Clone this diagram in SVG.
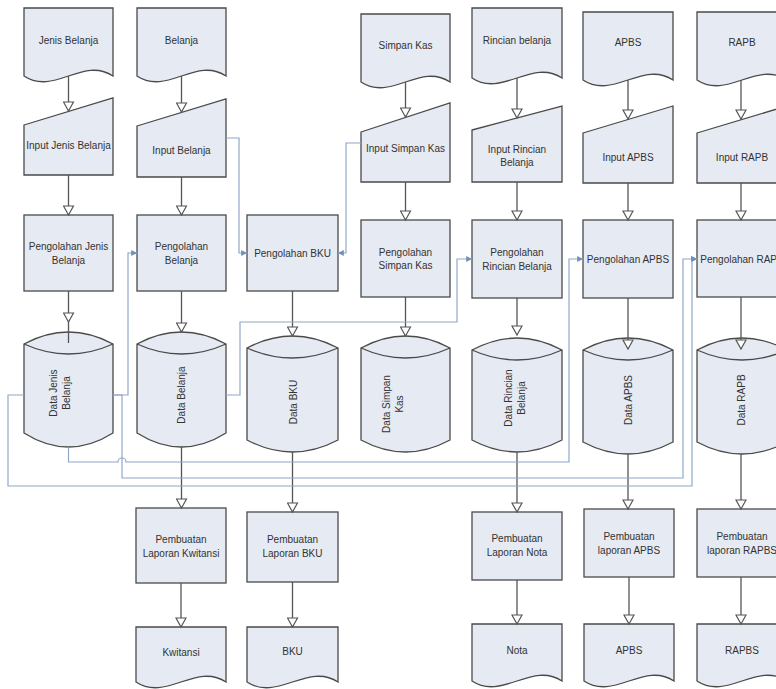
<svg xmlns="http://www.w3.org/2000/svg" width="776" height="689" viewBox="0 0 776 689">
  <style>
    .shape { fill: #e6eaf2; stroke: #4a4a4a; stroke-width: 1.3; }
    .inner { fill: none; stroke: #4a4a4a; stroke-width: 1.3; }
    .lbl { font-family: "Liberation Sans", Arial, sans-serif; font-size: 10px; fill: #333; text-anchor: middle; dominant-baseline: central; }
    .flow { fill: none; stroke: #555; stroke-width: 1.3; marker-end: url(#open); }
    .plain { fill: none; stroke: #555; stroke-width: 1.3; }
    .linkA { fill: none; stroke: #8fa8c8; stroke-width: 1.2; marker-end: url(#small); }
  </style>
  <defs>
    <marker id="open" markerUnits="userSpaceOnUse" markerWidth="12" markerHeight="12" refX="9" refY="0" viewBox="-1 -6 11 12" orient="auto">
      <path d="M0,-5 L9,0 L0,5 Z" fill="#fff" stroke="#555" stroke-width="1.2"/>
    </marker>
    <marker id="small" markerUnits="userSpaceOnUse" markerWidth="7" markerHeight="7" refX="5" refY="0" viewBox="0 -3 6 6" orient="auto">
      <path d="M0,-2.5 L5,0 L0,2.5 Z" fill="#6f8fb8"/>
    </marker>
  </defs>
  <rect width="776" height="689" fill="#fff"/>

  <!-- input documents -->
  <g id="doc-jenis-belanja">
    <path class="shape" d="M24,8 H113 V76 C83,56 54,96 24,76 Z"/>
    <text class="lbl" x="68.5" y="40">Jenis Belanja</text>
  </g>
  <g id="doc-belanja">
    <path class="shape" d="M137,8 H226 V76 C196,56 167,96 137,76 Z"/>
    <text class="lbl" x="181.5" y="40">Belanja</text>
  </g>
  <g id="doc-simpan-kas">
    <path class="shape" d="M361,14 H450 V82 C420,62 391,102 361,82 Z"/>
    <text class="lbl" x="405.5" y="45">Simpan Kas</text>
  </g>
  <g id="doc-rincian-belanja">
    <path class="shape" d="M472,8 H562 V78 C532,58 502,98 472,78 Z"/>
    <text class="lbl" x="517" y="40">Rincian belanja</text>
  </g>
  <g id="doc-apbs">
    <path class="shape" d="M583,12 H673 V80 C643,60 613,100 583,80 Z"/>
    <text class="lbl" x="628" y="42">APBS</text>
  </g>
  <g id="doc-rapb">
    <path class="shape" d="M697,12 H787 V80 C757,60 727,100 697,80 Z"/>
    <text class="lbl" x="742" y="42">RAPB</text>
  </g>

  <!-- manual inputs -->
  <g id="input-jenis-belanja">
    <path class="shape" d="M24,125 L113,98 V175 H24 Z"/>
    <text class="lbl" x="68.5" y="145">Input Jenis Belanja</text>
  </g>
  <g id="input-belanja">
    <path class="shape" d="M137,126 L226,99 V177 H137 Z"/>
    <text class="lbl" x="181.5" y="150">Input Belanja</text>
  </g>
  <g id="input-simpan-kas">
    <path class="shape" d="M361,132 L450,103 V182 H361 Z"/>
    <text class="lbl" x="405.5" y="148">Input Simpan Kas</text>
  </g>
  <g id="input-rincian-belanja">
    <path class="shape" d="M472,130 L562,106 V182 H472 Z"/>
    <text class="lbl" x="517" y="149">Input Rincian</text>
    <text class="lbl" x="517" y="162">Belanja</text>
  </g>
  <g id="input-apbs">
    <path class="shape" d="M583,133 L673,106 V183 H583 Z"/>
    <text class="lbl" x="628" y="157">Input APBS</text>
  </g>
  <g id="input-rapb">
    <path class="shape" d="M697,133 L787,106 V183 H697 Z"/>
    <text class="lbl" x="742" y="157">Input RAPB</text>
  </g>

  <!-- processes -->
  <g id="proc-jenis-belanja">
    <rect class="shape" x="24" y="215" width="89" height="76"/>
    <text class="lbl" x="68.5" y="246">Pengolahan Jenis</text>
    <text class="lbl" x="68.5" y="260">Belanja</text>
  </g>
  <g id="proc-belanja">
    <rect class="shape" x="137" y="215" width="89" height="76"/>
    <text class="lbl" x="181.5" y="246">Pengolahan</text>
    <text class="lbl" x="181.5" y="260">Belanja</text>
  </g>
  <g id="proc-bku">
    <rect class="shape" x="247" y="215" width="91" height="76"/>
    <text class="lbl" x="292.5" y="253">Pengolahan BKU</text>
  </g>
  <g id="proc-simpan-kas">
    <rect class="shape" x="361" y="220" width="89" height="77"/>
    <text class="lbl" x="405.5" y="252">Pengolahan</text>
    <text class="lbl" x="405.5" y="265">Simpan Kas</text>
  </g>
  <g id="proc-rincian-belanja">
    <rect class="shape" x="472" y="220" width="90" height="78"/>
    <text class="lbl" x="517" y="252">Pengolahan</text>
    <text class="lbl" x="517" y="266">Rincian Belanja</text>
  </g>
  <g id="proc-apbs">
    <rect class="shape" x="583" y="220" width="90" height="78"/>
    <text class="lbl" x="628" y="259">Pengolahan APBS</text>
  </g>
  <g id="proc-rapb">
    <rect class="shape" x="697" y="220" width="90" height="77"/>
    <text class="lbl" x="742" y="259">Pengolahan RAPB</text>
  </g>

  <!-- data stores -->
  <g id="data-jenis-belanja">
    <path class="shape" d="M24,344 Q68.5,320 113,344 V433 Q68.5,461 24,433 Z"/>
    <path class="inner" d="M24,344 Q68.5,364 113,344"/>
    <text class="lbl" transform="translate(60,393) rotate(-90)" y="-6.5">Data Jenis</text>
    <text class="lbl" transform="translate(60,393) rotate(-90)" y="6.5">Belanja</text>
  </g>
  <g id="data-belanja">
    <path class="shape" d="M137,344 Q181.5,320 226,344 V433 Q181.5,461 137,433 Z"/>
    <path class="inner" d="M137,344 Q181.5,364 226,344"/>
    <text class="lbl" transform="translate(181.5,395) rotate(-90)">Data Belanja</text>
  </g>
  <g id="data-bku">
    <path class="shape" d="M247,348 Q292.5,324 338,348 V440 Q292.5,464 247,440 Z"/>
    <path class="inner" d="M247,348 Q292.5,368 338,348"/>
    <text class="lbl" transform="translate(293,402) rotate(-90)">Data BKU</text>
  </g>
  <g id="data-simpan-kas">
    <path class="shape" d="M361,348 Q405.5,324 450,348 V440 Q405.5,464 361,440 Z"/>
    <path class="inner" d="M361,348 Q405.5,368 450,348"/>
    <text class="lbl" transform="translate(393,404) rotate(-90)" y="-6.5">Data Simpan</text>
    <text class="lbl" transform="translate(393,404) rotate(-90)" y="6.5">Kas</text>
  </g>
  <g id="data-rincian-belanja">
    <path class="shape" d="M472,350 Q517,326 562,350 V440 Q517,464 472,440 Z"/>
    <path class="inner" d="M472,350 Q517,370 562,350"/>
    <text class="lbl" transform="translate(515,398) rotate(-90)" y="-6.5">Data Rincian</text>
    <text class="lbl" transform="translate(515,398) rotate(-90)" y="6.5">Belanja</text>
  </g>
  <g id="data-apbs">
    <path class="shape" d="M583,350 Q628,326 673,350 V442 Q628,466 583,442 Z"/>
    <path class="inner" d="M583,350 Q628,370 673,350"/>
    <text class="lbl" transform="translate(628,400) rotate(-90)">Data APBS</text>
  </g>
  <g id="data-rapb">
    <path class="shape" d="M697,350 Q742,326 787,350 V442 Q742,466 697,442 Z"/>
    <path class="inner" d="M697,350 Q742,370 787,350"/>
    <text class="lbl" transform="translate(741,400) rotate(-90)">Data RAPB</text>
  </g>

  <!-- report processes -->
  <g id="report-kwitansi">
    <rect class="shape" x="136" y="508" width="90" height="75"/>
    <text class="lbl" x="181" y="539">Pembuatan</text>
    <text class="lbl" x="181" y="553">Laporan Kwitansi</text>
  </g>
  <g id="report-bku">
    <rect class="shape" x="247" y="512" width="91" height="70"/>
    <text class="lbl" x="292.5" y="539">Pembuatan</text>
    <text class="lbl" x="292.5" y="553">Laporan BKU</text>
  </g>
  <g id="report-nota">
    <rect class="shape" x="472" y="512" width="90" height="68"/>
    <text class="lbl" x="517" y="538">Pembuatan</text>
    <text class="lbl" x="517" y="552">Laporan Nota</text>
  </g>
  <g id="report-apbs">
    <rect class="shape" x="584" y="509" width="90" height="68"/>
    <text class="lbl" x="629" y="536">Pembuatan</text>
    <text class="lbl" x="629" y="550">laporan APBS</text>
  </g>
  <g id="report-rapbs">
    <rect class="shape" x="697" y="509" width="90" height="68"/>
    <text class="lbl" x="742" y="536">Pembuatan</text>
    <text class="lbl" x="742" y="550">laporan RAPBS</text>
  </g>

  <!-- output documents -->
  <g id="out-kwitansi">
    <path class="shape" d="M136,627 H226 V682 C196,662 166,702 136,682 Z"/>
    <text class="lbl" x="181" y="652">Kwitansi</text>
  </g>
  <g id="out-bku">
    <path class="shape" d="M247,627 H338 V682 C308,662 277,702 247,682 Z"/>
    <text class="lbl" x="292.5" y="651">BKU</text>
  </g>
  <g id="out-nota">
    <path class="shape" d="M472,624 H562 V681 C532,661 502,701 472,681 Z"/>
    <text class="lbl" x="517" y="650">Nota</text>
  </g>
  <g id="out-apbs">
    <path class="shape" d="M584,624 H674 V681 C644,661 614,701 584,681 Z"/>
    <text class="lbl" x="629" y="650">APBS</text>
  </g>
  <g id="out-rapbs">
    <path class="shape" d="M697,624 H787 V681 C757,661 727,701 697,681 Z"/>
    <text class="lbl" x="742" y="650">RAPBS</text>
  </g>

  <!-- connectors, drawn over the shapes so the heads inside the store tops show -->
  <g id="connectors">
    <!-- column 1 -->
    <path class="flow" d="M68.5,76 V111"/>
    <path class="flow" d="M68.5,175 V215"/>
    <path class="flow" d="M68.5,291 V322"/>
    <path class="plain" d="M68.5,322 V343"/>
    <!-- column 2 -->
    <path class="flow" d="M181.5,76 V112"/>
    <path class="flow" d="M181.5,177 V215"/>
    <path class="flow" d="M181.5,291 V332"/>
    <path class="flow" d="M181.5,447 V508"/>
    <path class="flow" d="M181,583 V627"/>
    <!-- column 3 -->
    <path class="flow" d="M292.5,291 V336"/>
    <path class="flow" d="M292.5,452 V512"/>
    <path class="flow" d="M292.5,582 V627"/>
    <!-- column 4 -->
    <path class="flow" d="M405.5,82 V117"/>
    <path class="flow" d="M405.5,182 V220"/>
    <path class="flow" d="M405.5,297 V336"/>
    <!-- column 5 -->
    <path class="flow" d="M517,78 V118"/>
    <path class="flow" d="M517,182 V220"/>
    <path class="flow" d="M517,298 V335"/>
    <path class="flow" d="M517,452 V512"/>
    <path class="flow" d="M517,580 V624"/>
    <!-- column 6 -->
    <path class="flow" d="M628,80 V119"/>
    <path class="flow" d="M628,183 V220"/>
    <path class="flow" d="M628,298 V349"/>
    <path class="flow" d="M628,454 V509"/>
    <path class="flow" d="M629,577 V624"/>
    <!-- column 7 -->
    <path class="flow" d="M741,80 V119"/>
    <path class="flow" d="M741,183 V220"/>
    <path class="flow" d="M741,297 V349"/>
    <path class="flow" d="M741,454 V509"/>
    <path class="flow" d="M741,577 V624"/>

    <!-- cross links -->
    <path class="linkA" d="M226,138 H239 V253 H247"/>
    <path class="linkA" d="M361,143 H346 V253 H338"/>
    <path class="linkA" d="M113,395 H128 V253 H137"/>
    <path class="linkA" d="M226,395 H240 V322 H457 V259 H472"/>
    <path class="linkA" d="M68.5,447 V462 H118 a4,4 0 0 1 8,0 H569 V259 H583"/>
    <path class="linkA" d="M113,395 H122 V478 H683 V259 H697"/>
    <path class="linkA" d="M24,395 H8 V486 H692 V259 H697"/>
  </g>
</svg>
